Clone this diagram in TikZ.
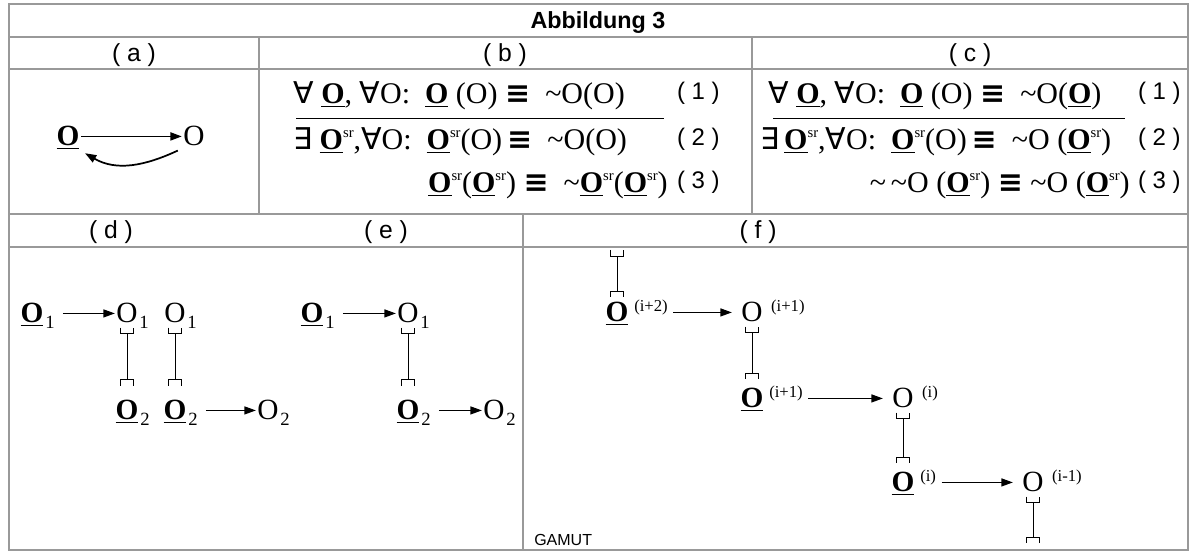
\documentclass[tikz,border=0pt]{standalone}
\usepackage{fontspec}
\setmainfont{Liberation Serif}
\newfontfamily\arial{Liberation Sans}
\newfontfamily\symb{DejaVu Sans}
\usetikzlibrary{arrows.meta,positioning}

\definecolor{rulegray}{HTML}{999999}

% underlined bold O, its small "sr" and the logic signs
\newcommand\ob{\underline{\textbf{O}}}
\newcommand\sr{\raisebox{0.42em}{\fontsize{11}{11}\selectfont sr}}
\newcommand\all{{\symb ∀}}
\newcommand\ex{{\symb ∃}}
\newcommand\eqv{{\symb\bfseries ≡}}
\newcommand\nt{\textasciitilde}

\tikzset{
  grid/.style={draw=rulegray, line width=1.9pt},
  title/.style={font=\arial\bfseries\fontsize{17.5}{20}\selectfont, anchor=base, inner sep=0pt},
  head/.style={font=\arial\fontsize{18.5}{20}\selectfont, anchor=base, inner sep=0pt},
  eq/.style={font=\fontsize{22.5}{24}\selectfont, inner sep=0pt},
  num/.style={font=\arial\fontsize{18}{20}\selectfont, anchor=base east, inner sep=0pt},
  obj/.style={font=\fontsize{22}{24}\selectfont, anchor=base, inner sep=0pt},
  sub/.style={font=\fontsize{14}{16}\selectfont, anchor=base west, inner sep=0pt},
  sup/.style={font=\fontsize{12.5}{14}\selectfont, anchor=base west, inner sep=0pt},
  arr/.style={-{Triangle[length=8.5pt,width=6pt]}, line width=0.8pt, shorten <=6pt, shorten >=1pt},
  link/.style={line width=0.7pt,
    {Bracket[reversed,width=11pt,length=4.5pt]}-{Bracket[reversed,width=11pt,length=4.5pt]},
    shorten <=3pt, shorten >=7pt},
}

\begin{document}
\begin{tikzpicture}[x=0.75pt,y=0.75pt]
\useasboundingbox (0,0) rectangle (1190,-552);

% table frame
\draw[grid] (9,-4) rectangle (1188,-550);
\foreach \y in {37,69,214,247}
  \draw[grid] (9,-\y) -- (1188,-\y);
\draw[grid] (259,-37) -- (259,-214);
\draw[grid] (752,-37) -- (752,-214);
\draw[grid] (523,-214) -- (523,-550);

% headings
\node[title] at (598,-29) {Abbildung 3};
\node[head] (ha) at (134,-62) {( a )};
\node[head] (hb) at (505,-62) {( b )};
\node[head] (hc) at (970,-62) {( c )};
\node[head] (hd) at (111,-239) {( d )};
\node[head] (he) at (386,-239) {( e )};
\node[head] (hf) at (758,-239) {( f )};

% (a)
\node[obj] (a1) at (68,-146) {\ob};
\node[obj] (a2) at (194,-146) {O};
\draw[arr, line width=1.3pt, shorten <=1pt] (a1.east |- a2.west) -- (a2.west);
\draw[arr, line width=1.3pt, shorten <=0pt, shorten >=0pt] ([xshift=-4pt,yshift=-3pt]a2.south west)
  to[out=205,in=-30] ([xshift=4pt,yshift=-3pt]a1.south east);

% (b)
\node[eq, anchor=base west] (b1) at (293,-104)
  {\all\ \ob, \all O:\ \ \ob\ (O) \eqv\ \ \nt O(O)};
\node[num] (bn1) at (720,-100) {( 1 )};
\draw[line width=0.6pt] (296,-118) -- (664,-118);
\node[eq, anchor=base west] (b2) at (293,-150)
  {\ex\ \ob\sr,\all O:\ \ \ob\sr(O)\,\eqv\ \ \nt O(O)};
\node[num] (bn2) at (720,-146) {( 2 )};
\node[eq, anchor=base east] (b3) at (668,-193)
  {\ob\sr(\ob\sr)\ \eqv\ \ \nt\ob\sr(\ob\sr)};
\node[num] (bn3) at (720,-189) {( 3 )};

% (c)
\node[eq, anchor=base west] (c1) at (768,-104)
  {\all\ \ob, \all O:\ \ \ob\ (O) \eqv\ \ \nt O(\ob)};
\node[num] (cn1) at (1181,-100) {( 1 )};
\draw[line width=0.6pt] (773,-118) -- (1125,-118);
\node[eq, anchor=base west] (c2) at (760,-150)
  {\ex\,\ob\sr,\all O:\ \ \ob\sr(O)\,\eqv\ \ \nt O (\ob\sr)};
\node[num] (cn2) at (1181,-146) {( 2 )};
\node[eq, anchor=base east] (c3) at (1130,-193)
  {\nt\,\nt O (\ob\sr)\ \eqv\ \nt O (\ob\sr)};
\node[num] (cn3) at (1181,-189) {( 3 )};

% (d)
\node[obj] (d1) at (32,-323) {\ob};
\node[sub] (d1s) at ([xshift=1pt,yshift=-4pt]d1.base east) {1};
\node[obj] (d2) at (127,-323) {O};
\node[sub] (d2s) at ([xshift=1pt,yshift=-4pt]d2.base east) {1};
\node[obj] (d3) at (175,-323) {O};
\node[sub] (d3s) at ([xshift=1pt,yshift=-4pt]d3.base east) {1};
\node[obj] (d4) at (127,-420) {\ob};
\node[sub] (d4s) at ([xshift=1pt,yshift=-4pt]d4.base east) {2};
\node[obj] (d5) at (175,-420) {\ob};
\node[sub] (d5s) at ([xshift=1pt,yshift=-4pt]d5.base east) {2};
\node[obj] (d6) at (268,-420) {O};
\node[sub] (d6s) at ([xshift=1pt,yshift=-4pt]d6.base east) {2};
\draw[arr] (d1s.east |- d2.west) -- (d2.west);
\draw[arr] (d5s.east |- d6.west) -- (d6.west);
\draw[link, shorten >=11pt] (d2) -- (d4);
\draw[link, shorten >=11pt] (d3) -- (d5);

% (e)
\node[obj] (e1) at (312,-323) {\ob};
\node[sub] (e1s) at ([xshift=1pt,yshift=-4pt]e1.base east) {1};
\node[obj] (e2) at (408,-323) {O};
\node[sub] (e2s) at ([xshift=1pt,yshift=-4pt]e2.base east) {1};
\node[obj] (e3) at (408,-420) {\ob};
\node[sub] (e3s) at ([xshift=1pt,yshift=-4pt]e3.base east) {2};
\node[obj] (e4) at (494,-420) {O};
\node[sub] (e4s) at ([xshift=1pt,yshift=-4pt]e4.base east) {2};
\draw[arr] (e1s.east |- e2.west) -- (e2.west);
\draw[arr] (e3s.east |- e4.west) -- (e4.west);
\draw[link, shorten >=11pt] (e2) -- (e3);

% (f)
\coordinate (ftop) at (617,-250);
\node[obj] (g1) at (617,-322) {\ob};
\node[sup] (g1s) at ([xshift=4pt,yshift=8pt]g1.base east) {(i+2)};
\node[obj] (h1) at (752,-322) {O};
\node[sup] (h1s) at ([xshift=6pt,yshift=8pt]h1.base east) {(i+1)};
\node[obj] (g2) at (752,-408) {\ob};
\node[sup] (g2s) at ([xshift=4pt,yshift=8pt]g2.base east) {(i+1)};
\node[obj] (h2) at (903,-408) {O};
\node[sup] (h2s) at ([xshift=6pt,yshift=8pt]h2.base east) {(i)};
\node[obj] (g3) at (903,-492) {\ob};
\node[sup] (g3s) at ([xshift=4pt,yshift=8pt]g3.base east) {(i)};
\node[obj] (h3) at (1033,-492) {O};
\node[sup] (h3s) at ([xshift=6pt,yshift=8pt]h3.base east) {(i-1)};
\coordinate (fbot) at (1033,-543);
\draw[link, shorten <=0pt, shorten >=4pt] (ftop) -- (g1);
\draw[arr, shorten <=4pt, shorten >=7pt] (g1s.east |- h1.west) -- (h1.west);
\draw[link] (h1) -- (g2);
\draw[arr, shorten <=4pt, shorten >=7pt] (g2s.east |- h2.west) -- (h2.west);
\draw[link] (h2) -- (g3);
\draw[arr, shorten <=4pt, shorten >=7pt] (g3s.east |- h3.west) -- (h3.west);
\draw[link, shorten >=0pt] (h3) -- (fbot);

\node[font=\arial\fontsize{12}{14}\selectfont, anchor=base west, inner sep=0pt] (tag) at (534,-546) {GAMUT};
\end{tikzpicture}
\end{document}
